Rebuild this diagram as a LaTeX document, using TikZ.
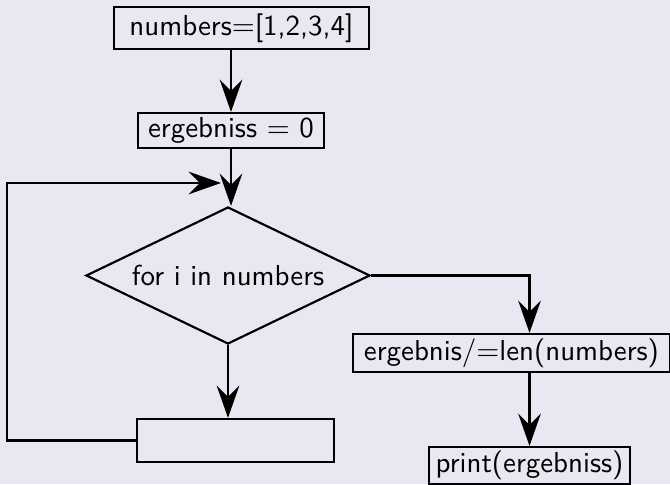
\documentclass[tikz,border=0pt]{standalone}
\usetikzlibrary{shapes.geometric,arrows.meta}
\definecolor{bgc}{RGB}{232,232,242}
\def\pxu{0.37pt}
\begin{document}
\begin{tikzpicture}[x=0.37pt,y=-0.37pt,
  font=\sffamily\fontsize{10.7}{13}\selectfont,
  every path/.style={line width=0.8pt},
  boxnode/.style={draw,line width=0.8pt,rectangle,inner sep=0pt,align=center},
  decnode/.style={draw,line width=0.8pt,diamond,aspect=2.07,inner sep=0pt,minimum width=284*\pxu,minimum height=137*\pxu},
  flow/.style={-{Stealth[length=12pt,width=8.4pt,inset=4.2pt]}}]
\fill[bgc] (0,0) rectangle (670,484);
\useasboundingbox (0,0) rectangle (670,484);
\node[boxnode,minimum width=255*\pxu,minimum height=42*\pxu] (b1) at (241.5,28) {numbers$=$[1,2,3,4]};
\node[boxnode,minimum width=186*\pxu,minimum height=35*\pxu] (b2) at (231,130.5) {ergebniss $=$ 0};
\node[decnode] (d) at (228,275.5) {for i in numbers};
\node[boxnode,minimum width=197*\pxu,minimum height=43*\pxu] (r) at (235.5,440.5) {};
\node[boxnode,minimum width=317*\pxu,minimum height=38*\pxu] (b3) at (511.5,353) {ergebnis/$=$len(numbers)};
\node[boxnode,minimum width=201*\pxu,minimum height=37*\pxu] (b4) at (529.5,465.5) {print(ergebniss)};
\coordinate (lc) at (7,183);
\coordinate (lt) at (221,183);
\draw[flow] (b2.north |- b1.south) -- (b2.north);
\draw[flow] (b2.south) -- (b2.south |- d.north);
\draw[flow] (d.south) -- (d.south |- r.north);
\draw[flow] (r.west) -| (lc) -- (lt);
\draw[flow] (d.east) -| (b4.north |- b3.north);
\draw[flow] (b4.north |- b3.south) -- (b4.north);
\end{tikzpicture}
\end{document}
